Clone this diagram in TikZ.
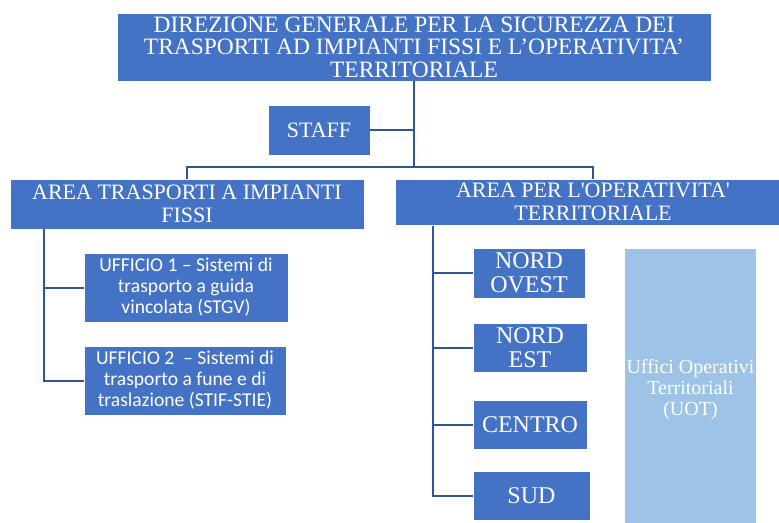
\documentclass[tikz,border=0pt]{standalone}
\usepackage{fontspec}
\setmainfont{Liberation Serif}
\newfontfamily\officefont{Carlito}
\usetikzlibrary{positioning}
\definecolor{boxblue}{HTML}{4472C4}
\definecolor{lineblue}{HTML}{2F5597}
\definecolor{uotblue}{HTML}{9DC3E6}
\tikzstyle{unit} = [rectangle, draw=white, line width=0.6pt, fill=boxblue, text=white, align=center, inner sep=0pt]
\tikzstyle{head} = [unit, font=\fontsize{17.6}{16.9}\selectfont]
\tikzstyle{area} = [unit, minimum height=37.5pt, font=\fontsize{16.5}{17}\selectfont]
\tikzstyle{office} = [unit, minimum height=51.75pt, font=\officefont\fontsize{14.7}{15.75}\selectfont]
\tikzstyle{uot} = [unit, minimum height=36.75pt, font=\fontsize{18}{18}\selectfont]
\tikzstyle{conn} = [draw=lineblue, line width=1.5pt]

\begin{document}
\begin{tikzpicture}[x=0.75pt, y=-0.75pt]
    \useasboundingbox (0,0) rectangle (779,522);

    \node (dir) [head, minimum width=445.5pt, minimum height=51pt] at (414,47)
        {DIREZIONE GENERALE PER LA SICUREZZA DEI\\TRASPORTI AD IMPIANTI FISSI E L’OPERATIVITA’\\TERRITORIALE};
    \node (staff) [unit, font=\fontsize{16.5}{16.5}\selectfont, minimum width=76.5pt, minimum height=37.5pt] at (319,130) {STAFF};
    \node (areafissi) [area, minimum width=265.5pt] at (187,204) {AREA TRASPORTI A IMPIANTI\\FISSI};
    \node (areaterr) [area, minimum width=297pt, minimum height=34.5pt] at (593,202) {AREA PER L\textquotesingle OPERATIVITA\textquotesingle\\TERRITORIALE};

    \node (uff1) [office, minimum width=153pt] at (186,287.5) {UFFICIO 1 – Sistemi di\\trasporto a guida\\vincolata (STGV)};
    \node (uff2) [office, minimum width=151.5pt] at (185,380.5) {UFFICIO 2~ – Sistemi di\\trasporto a fune e di\\traslazione (STIF-STIE)};

    \node (nordovest) [uot, minimum width=84pt, minimum height=37.5pt] at (529,273) {NORD\\OVEST};
    \node (nordest) [uot, minimum width=85.5pt] at (530,347.5) {NORD\\EST};
    \node (centro) [uot, minimum width=85.5pt] at (530,424.5) {CENTRO};
    \node (sud) [uot, minimum width=87.75pt] at (531.5,495.5) {SUD};

    \node (uffici) [rectangle, fill=uotblue, text=white, align=center, inner sep=0pt, minimum width=98.25pt, minimum height=210.75pt, font=\fontsize{15}{16}\selectfont] at (690.5,389.5)
        {Uffici Operativi\\Territoriali\\(UOT)};

    \coordinate (hub) at (414,167);
    \coordinate (trunkL) at (44,229);
    \coordinate (trunkR) at (433,226);

    \draw [conn] (dir.south) -- (hub);
    \draw [conn] (staff.east) -- (staff.east -| hub);
    \draw [conn] (areafissi.north) |- (hub) -| (areaterr.north);

    \draw [conn] (trunkL) |- (uff2.west);
    \draw [conn] (trunkL |- uff1.west) -- (uff1.west);

    \draw [conn] (trunkR) |- (sud.west);
    \draw [conn] (trunkR |- nordovest.west) -- (nordovest.west);
    \draw [conn] (trunkR |- nordest.west) -- (nordest.west);
    \draw [conn] (trunkR |- centro.west) -- (centro.west);
\end{tikzpicture}
\end{document}
